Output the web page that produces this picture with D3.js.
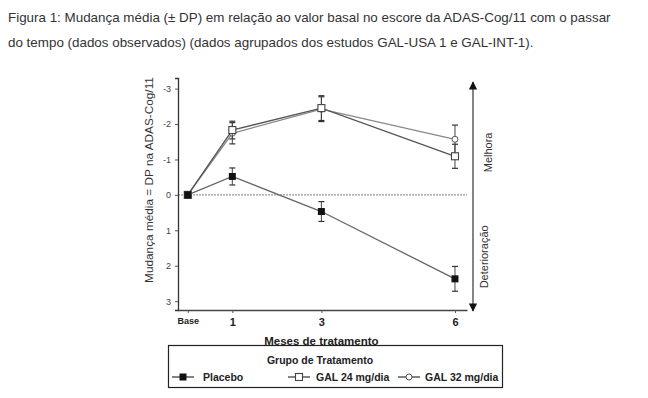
<!DOCTYPE html>
<html>
<head>
<meta charset="utf-8">
<script src="https://cdn.jsdelivr.net/npm/d3@7"></script>
<style>
  body { margin: 0; background: #fff; }
  svg { display: block; font-family: "Liberation Sans", Arial, sans-serif; }
</style>
</head>
<body>
<svg id="chart" width="648" height="398"></svg>
<script>
// months of treatment (0 = Base)
const months = [0, 1, 3, 6];
const tickLabels = ['Base', '1', '3', '6'];
const yTicks = [-3, -2, -1, 0, 1, 2, 3];

const placebo = [0, -0.52, 0.47, 2.37];
const placeboSD = [0, 0.24, 0.28, 0.35];
const gal24 = [0, -1.83, -2.45, -1.09];
const gal24SD = [0, 0.25, 0.35, 0.34];
const gal32 = [0, -1.74, -2.42, -1.57];
const gal32SD = [0, 0.3, 0.35, 0.4];

const svg = d3.select('#chart');

// caption
const caption = svg.append('g').attr('fill', '#333').style('font-size', '13.4px');
caption.append('text').attr('x', 8).attr('y', 22)
    .text('Figura 1: Mudança média (± DP) em relação ao valor basal no escore da ADAS-Cog/11 com o passar');
caption.append('text').attr('x', 8).attr('y', 47)
    .text('do tempo (dados observados) (dados agrupados dos estudos GAL-USA 1 e GAL-INT-1).');

const x = d3.scaleLinear().domain([-0.22, 6.27]).range([178, 467]);
const y = d3.scaleLinear().domain([-3.3, 3.25]).range([78, 310]);

// zero reference line
svg.append('line')
    .attr('x1', x(-0.22)).attr('x2', x(6.27))
    .attr('y1', y(0)).attr('y2', y(0))
    .attr('stroke', '#999').attr('stroke-width', 1.2)
    .attr('stroke-dasharray', '2,1');

// y axis
const yAxis = svg.append('g')
    .attr('transform', `translate(${x(-0.22)},0)`)
    .call(d3.axisLeft(y).tickValues(yTicks).tickSize(3).tickFormat(d => d < 0 ? '-' + Math.abs(d) : d));
yAxis.select('.domain').attr('stroke', '#333').attr('stroke-width', 1.3);
yAxis.selectAll('.tick line').attr('stroke', '#555');
yAxis.selectAll('.tick text').attr('fill', '#444').style('font-size', '9px').attr('x', -7);

// x axis
const xAxis = svg.append('g')
    .attr('transform', `translate(0,${y(3.25)})`)
    .call(d3.axisBottom(x).tickValues(months).tickSize(3).tickSizeOuter(0)
        .tickFormat((d, i) => tickLabels[i]));
xAxis.select('.domain').attr('stroke', '#444').attr('stroke-width', 1.3);
xAxis.selectAll('.tick line').attr('stroke', '#555');
xAxis.selectAll('.tick text').attr('fill', '#222').attr('y', 8)
    .style('font-size', d => d === 0 ? '9px' : '11px').style('font-weight', 'bold');

svg.append('text')
    .attr('x', x(3)).attr('y', 345)
    .attr('text-anchor', 'middle')
    .attr('fill', '#222').style('font-size', '11.5px').style('font-weight', 'bold')
    .text('Meses de tratamento');

svg.append('text')
    .attr('transform', 'translate(153,180) rotate(-90)')
    .attr('text-anchor', 'middle')
    .attr('fill', '#333').style('font-size', '11.8px')
    .text('Mudança média = DP na ADAS-Cog/11');

// direction arrow
const defs = svg.append('defs');
defs.append('marker').attr('id', 'arr')
    .attr('viewBox', '0 0 10 10').attr('refX', 9).attr('refY', 5)
    .attr('markerWidth', 7).attr('markerHeight', 7).attr('orient', 'auto-start-reverse')
    .append('path').attr('d', 'M0,0L10,5L0,10Z').attr('fill', '#111');
svg.append('line')
    .attr('x1', 473).attr('x2', 473).attr('y1', 82).attr('y2', 311)
    .attr('stroke', '#333').attr('stroke-width', 1.2)
    .attr('marker-start', 'url(#arr)').attr('marker-end', 'url(#arr)');
svg.append('text')
    .attr('transform', `translate(492,${y(-1.2)}) rotate(-90)`)
    .attr('text-anchor', 'middle').attr('fill', '#333').style('font-size', '11px')
    .text('Melhora');
svg.append('text')
    .attr('transform', `translate(488,${y(1.75)}) rotate(-90)`)
    .attr('text-anchor', 'middle').attr('fill', '#333').style('font-size', '11px')
    .text('Deterioração');

const series = [
    { name: 'GAL 32 mg/dia', values: gal32, sd: gal32SD, shape: 'circle', color: '#888' },
    { name: 'GAL 24 mg/dia', values: gal24, sd: gal24SD, shape: 'openSquare', color: '#555' },
    { name: 'Placebo', values: placebo, sd: placeboSD, shape: 'square', color: '#666' }
];

const line = d3.line().x((d, i) => x(months[i])).y(d => y(d));

function drawMarker(g, shape, cx, cy) {
    if (shape === 'circle') {
        g.append('circle').attr('cx', cx).attr('cy', cy).attr('r', 3)
            .attr('fill', '#fff').attr('stroke', '#555').attr('stroke-width', 1);
    } else if (shape === 'openSquare') {
        g.append('rect').attr('x', cx - 3.5).attr('y', cy - 3.5).attr('width', 7).attr('height', 7)
            .attr('fill', '#fff').attr('stroke', '#444').attr('stroke-width', 1.1);
    } else {
        g.append('rect').attr('x', cx - 3.5).attr('y', cy - 3.5).attr('width', 7).attr('height', 7)
            .attr('fill', '#111');
    }
}

series.forEach(s => {
    const g = svg.append('g');
    g.append('path').datum(s.values)
        .attr('d', line).attr('fill', 'none')
        .attr('stroke', s.color).attr('stroke-width', 1.3);
    s.values.forEach((v, i) => {
        if (!s.sd[i]) return;
        const cx = x(months[i]);
        g.append('line').attr('x1', cx).attr('x2', cx)
            .attr('y1', y(v - s.sd[i])).attr('y2', y(v + s.sd[i]))
            .attr('stroke', '#444').attr('stroke-width', 1);
        [v - s.sd[i], v + s.sd[i]].forEach(e => {
            g.append('line').attr('x1', cx - 3).attr('x2', cx + 3)
                .attr('y1', y(e)).attr('y2', y(e))
                .attr('stroke', '#333').attr('stroke-width', 1.2);
        });
    });
    s.values.forEach((v, i) => drawMarker(g, s.shape, x(months[i]), y(v)));
});

// legend
const lg = svg.append('g');
lg.append('rect').attr('x', 168.5).attr('y', 345.5).attr('width', 334).attr('height', 42)
    .attr('fill', '#fff').attr('stroke', '#222').attr('stroke-width', 1.2);
lg.append('text').attr('x', 320).attr('y', 364).attr('text-anchor', 'middle')
    .attr('fill', '#222').style('font-size', '10.5px').style('font-weight', 'bold')
    .text('Grupo de Tratamento');
const legendItems = [
    { label: 'Placebo', shape: 'square', x0: 172, tx: 203 },
    { label: 'GAL 24 mg/dia', shape: 'openSquare', x0: 288, tx: 316 },
    { label: 'GAL 32 mg/dia', shape: 'circle', x0: 398, tx: 425 }
];
legendItems.forEach(it => {
    const ly = 377;
    lg.append('line').attr('x1', it.x0).attr('x2', it.x0 + 22)
        .attr('y1', ly).attr('y2', ly).attr('stroke', '#333').attr('stroke-width', 1.2);
    drawMarker(lg, it.shape, it.x0 + 11, ly);
    lg.append('text').attr('x', it.tx).attr('y', ly + 4)
        .attr('fill', '#222').style('font-size', '10.5px').style('font-weight', 'bold')
        .text(it.label);
});
</script>
</body>
</html>
